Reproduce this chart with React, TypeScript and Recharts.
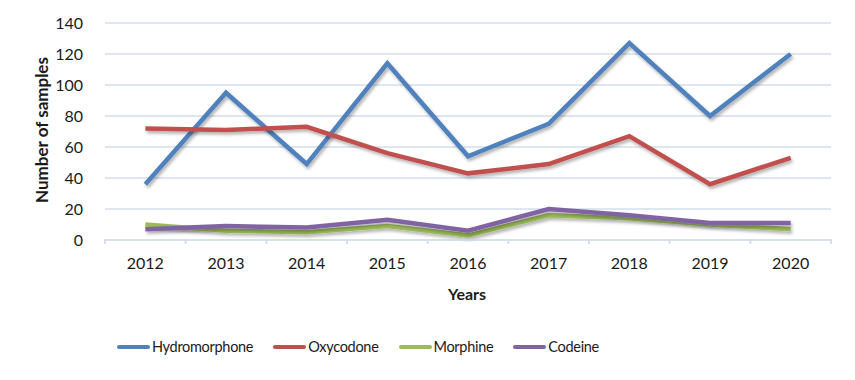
import { LineChart, Line, XAxis, YAxis, CartesianGrid, Legend, Label } from "recharts";

const YEARS = ["2012", "2013", "2014", "2015", "2016", "2017", "2018", "2019", "2020"];
const HYDROMORPHONE = [36, 95, 49, 114, 54, 75, 127, 80, 120];
const OXYCODONE = [72, 71, 73, 56, 43, 49, 67, 36, 53];
const MORPHINE = [10, 6, 5, 9, 3, 16, 14, 10, 7];
const CODEINE = [7, 9, 8, 13, 6, 20, 16, 11, 11];
const Y_TICKS = [0, 20, 40, 60, 80, 100, 120, 140];

const SERIES = [
  { key: "Hydromorphone", color: "#4F81BD" },
  { key: "Oxycodone", color: "#C0504D" },
  { key: "Morphine", color: "#9BBB59" },
  { key: "Codeine", color: "#8064A2" },
];

const data = YEARS.map((year, i) => ({
  year,
  Hydromorphone: HYDROMORPHONE[i],
  Oxycodone: OXYCODONE[i],
  Morphine: MORPHINE[i],
  Codeine: CODEINE[i],
}));

const W = 855;
const H = 380;
const MARGIN = { top: 23, right: 24, bottom: 67, left: 30 };
const Y_WIDTH = 75;
const X_HEIGHT = 56;
const FONT = "Lato, 'Open Sans', sans-serif";
const GRID = "#D3DEEE";
const TEXT = "#1a1a1a";

const plotLeft = MARGIN.left + Y_WIDTH;
const band = (W - MARGIN.right - plotLeft) / YEARS.length;
const AXIS_Y = 239;

function XTick(props: any) {
  const { x, payload, index } = props;
  return (
    <g>
      <line x1={x - band / 2} x2={x - band / 2} y1={AXIS_Y} y2={AXIS_Y + 5} stroke={GRID} strokeWidth={2} />
      {index === YEARS.length - 1 && (
        <line x1={x + band / 2} x2={x + band / 2} y1={AXIS_Y} y2={AXIS_Y + 5} stroke={GRID} strokeWidth={2} />
      )}
      <text x={x} y={AXIS_Y + 30} textAnchor="middle" fontSize={16} fill={TEXT} fontFamily={FONT}>
        {payload.value}
      </text>
    </g>
  );
}

function LegendContent() {
  return (
    <div style={{ display: "flex", alignItems: "center", fontFamily: FONT, fontSize: 14.5, letterSpacing: -0.3, color: TEXT, paddingLeft: 117 }}>
      {SERIES.map((s) => (
        <div key={s.key} style={{ display: "flex", alignItems: "center", marginRight: 20 }}>
          <span style={{ display: "inline-block", width: 33, height: 4, borderRadius: 2, background: s.color, marginRight: 2 }} />
          <span>{s.key}</span>
        </div>
      ))}
    </div>
  );
}

export default function App() {
  return (
    <div style={{ position: "relative", width: W, height: H, margin: -8, background: "#fff" }}>
      <LineChart width={W} height={H} data={data} margin={MARGIN}>
        <defs>
          <filter id="shadow" x="-10%" y="-20%" width="120%" height="150%">
            <feDropShadow dx="1.5" dy="2.5" stdDeviation="1.5" floodColor="#000" floodOpacity="0.3" />
          </filter>
        </defs>
        <CartesianGrid vertical={false} stroke={GRID} strokeWidth={1.5} />
        <XAxis
          dataKey="year"
          scale="band"
          height={X_HEIGHT}
          stroke={GRID}
          strokeWidth={1.5}
          tickLine={false}
          tick={<XTick />}
          interval={0}
        >
          <Label
            content={() => (
              <text x={467} y={300} textAnchor="middle" fontSize={16} fontWeight="bold" fill={TEXT} fontFamily={FONT}>
                Years
              </text>
            )}
          />
        </XAxis>
        <YAxis
          width={Y_WIDTH}
          domain={[0, 140]}
          ticks={Y_TICKS}
          axisLine={false}
          tickLine={false}
          tickMargin={16}
          tick={{ fontSize: 16, fill: TEXT, fontFamily: FONT }}
        >
          <Label
            content={() => (
              <text
                x={41}
                y={130}
                transform="rotate(-90 41 130)"
                textAnchor="middle"
                dominantBaseline="central"
                fontSize={17}
                fontWeight="bold"
                fill={TEXT}
                fontFamily={FONT}
              >
                Number of samples
              </text>
            )}
          />
        </YAxis>
        <Legend content={<LegendContent />} wrapperStyle={{ top: 338, left: 0, width: W }} />
        {SERIES.map((s) => (
          <Line
            key={s.key}
            dataKey={s.key}
            stroke={s.color}
            strokeWidth={4.5}
            dot={false}
            activeDot={false}
            type="linear"
            filter="url(#shadow)"
            isAnimationActive={false}
          />
        ))}
      </LineChart>
      <div style={{ position: "absolute", inset: 0, border: "1px solid #D5DCE6", pointerEvents: "none" }} />
    </div>
  );
}
